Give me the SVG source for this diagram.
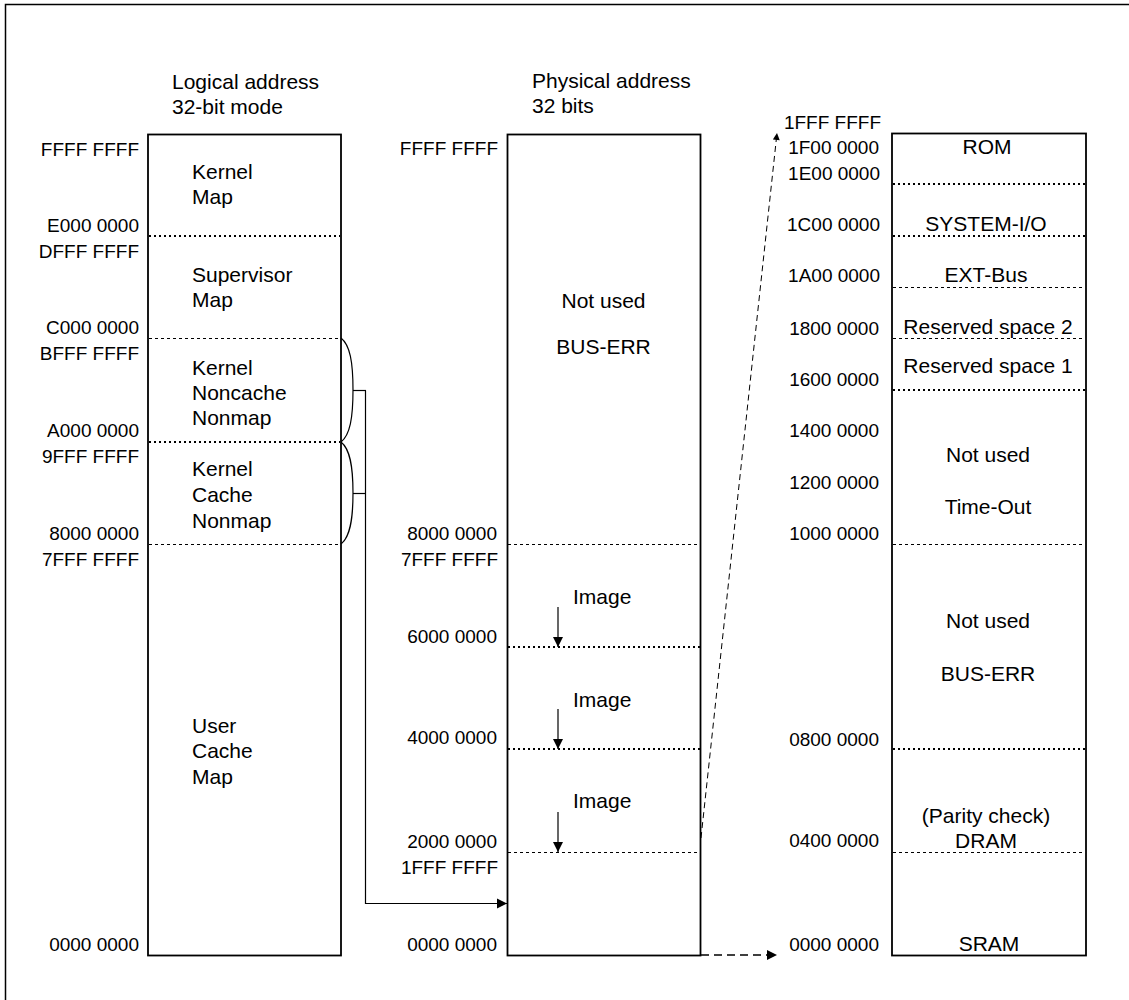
<svg xmlns="http://www.w3.org/2000/svg" width="1129" height="1000" viewBox="0 0 1129 1000">
<style>
text{font-family:"Liberation Sans",Arial,sans-serif;fill:#000}
.a{font-size:19px;text-anchor:end}
.l{font-size:21px}
.c{font-size:21px;text-anchor:middle}
.box{fill:none;stroke:#000;stroke-width:1.8}
.dt{stroke:#000;stroke-width:2;stroke-dasharray:2 3;fill:none}
.dn{stroke:#000;stroke-width:1;stroke-dasharray:3 3;fill:none}
.ln{stroke:#000;stroke-width:1.2;fill:none}
</style>
<defs>
<marker id="ah" viewBox="0 0 10 10" refX="10" refY="5" markerWidth="10" markerHeight="11" markerUnits="userSpaceOnUse" orient="auto">
<path d="M0,0 L10,5 L0,10 Z" fill="#000"/>
</marker>
<marker id="ahs" viewBox="0 0 10 10" refX="10" refY="5" markerWidth="8" markerHeight="7" markerUnits="userSpaceOnUse" orient="auto">
<path d="M0,0 L10,5 L0,10 Z" fill="#000"/>
</marker>
</defs>
<rect width="1129" height="1000" fill="#fff"/>
<path d="M5.5,1000 V4.5 H1129" fill="none" stroke="#000" stroke-width="1.5"/>

<g id="logical">
<text class="l" x="172" y="89">Logical address</text>
<text class="l" x="172" y="114">32-bit mode</text>
<rect class="box" x="148" y="134.5" width="193" height="821"/>
<line class="dt" x1="149" y1="236" x2="340" y2="236"/>
<line class="dn" x1="149" y1="338.5" x2="340" y2="338.5"/>
<line class="dt" x1="149" y1="442" x2="340" y2="442"/>
<line class="dn" x1="149" y1="544.5" x2="340" y2="544.5"/>
<text class="a" x="139" y="156">FFFF FFFF</text>
<text class="a" x="139" y="232">E000 0000</text>
<text class="a" x="139" y="258">DFFF FFFF</text>
<text class="a" x="139" y="334">C000 0000</text>
<text class="a" x="139" y="360">BFFF FFFF</text>
<text class="a" x="139" y="437">A000 0000</text>
<text class="a" x="139" y="463">9FFF FFFF</text>
<text class="a" x="139" y="540">8000 0000</text>
<text class="a" x="139" y="566">7FFF FFFF</text>
<text class="a" x="139" y="951">0000 0000</text>
<text class="l" x="192" y="179">Kernel</text>
<text class="l" x="192" y="204">Map</text>
<text class="l" x="192" y="282">Supervisor</text>
<text class="l" x="192" y="307">Map</text>
<text class="l" x="192" y="375">Kernel</text>
<text class="l" x="192" y="400">Noncache</text>
<text class="l" x="192" y="425">Nonmap</text>
<text class="l" x="192" y="476">Kernel</text>
<text class="l" x="192" y="502">Cache</text>
<text class="l" x="192" y="528">Nonmap</text>
<text class="l" x="192" y="733">User</text>
<text class="l" x="192" y="758">Cache</text>
<text class="l" x="192" y="784">Map</text>
</g>

<g id="physical">
<text class="l" x="532" y="88">Physical address</text>
<text class="l" x="532" y="113">32 bits</text>
<rect class="box" x="507.5" y="134.5" width="193" height="821"/>
<line class="dn" x1="508" y1="544.5" x2="700" y2="544.5"/>
<line class="dt" x1="508" y1="647" x2="700" y2="647"/>
<line class="dt" x1="508" y1="749" x2="700" y2="749"/>
<line class="dn" x1="508" y1="852.5" x2="700" y2="852.5"/>
<text class="a" x="498" y="155">FFFF FFFF</text>
<text class="a" x="497" y="540">8000 0000</text>
<text class="a" x="498" y="566">7FFF FFFF</text>
<text class="a" x="497" y="643">6000 0000</text>
<text class="a" x="497" y="744">4000 0000</text>
<text class="a" x="497" y="848">2000 0000</text>
<text class="a" x="498" y="874">1FFF FFFF</text>
<text class="a" x="497" y="951">0000 0000</text>
<text class="c" x="603.5" y="308">Not used</text>
<text class="c" x="603.5" y="354">BUS-ERR</text>
<text class="l" x="573" y="604">Image</text>
<text class="l" x="573" y="707">Image</text>
<text class="l" x="573" y="808">Image</text>
</g>

<g id="local">
<rect class="box" x="892" y="133.5" width="194" height="822"/>
<line class="dt" x1="893" y1="184" x2="1085" y2="184"/>
<line class="dt" x1="893" y1="236" x2="1085" y2="236"/>
<line class="dn" x1="893" y1="287.5" x2="1085" y2="287.5"/>
<line class="dn" x1="893" y1="338.5" x2="1085" y2="338.5"/>
<line class="dt" x1="893" y1="390" x2="1085" y2="390"/>
<line class="dn" x1="893" y1="544.5" x2="1085" y2="544.5"/>
<line class="dt" x1="893" y1="749" x2="1085" y2="749"/>
<line class="dn" x1="893" y1="852.5" x2="1085" y2="852.5"/>
<text class="a" x="881" y="129">1FFF FFFF</text>
<text class="a" x="879" y="154">1F00 0000</text>
<text class="a" x="880" y="180">1E00 0000</text>
<text class="a" x="880" y="231">1C00 0000</text>
<text class="a" x="880" y="282">1A00 0000</text>
<text class="a" x="879" y="335">1800 0000</text>
<text class="a" x="879" y="386">1600 0000</text>
<text class="a" x="879" y="437">1400 0000</text>
<text class="a" x="879" y="489">1200 0000</text>
<text class="a" x="879" y="540">1000 0000</text>
<text class="a" x="879" y="746">0800 0000</text>
<text class="a" x="879" y="847">0400 0000</text>
<text class="a" x="879" y="951">0000 0000</text>
<text class="c" x="987" y="154">ROM</text>
<text class="c" x="986" y="231">SYSTEM-I/O</text>
<text class="c" x="986" y="282">EXT-Bus</text>
<text class="c" x="988" y="334">Reserved space 2</text>
<text class="c" x="988" y="373">Reserved space 1</text>
<text class="c" x="988" y="462">Not used</text>
<text class="c" x="988" y="514">Time-Out</text>
<text class="c" x="988" y="628">Not used</text>
<text class="c" x="988" y="681">BUS-ERR</text>
<text class="c" x="986" y="823">(Parity check)</text>
<text class="c" x="986" y="848">DRAM</text>
<text class="c" x="989" y="951">SRAM</text>
</g>

<g id="connectors">
<path class="ln" d="M341,338 C350,345 353,362 353,390 C353,418 350,435 341,442"/>
<path class="ln" d="M341,442 C350,449 353,466 353,493 C353,520 350,537 341,544"/>
<line class="ln" x1="353" y1="390.5" x2="366" y2="390.5"/>
<line class="ln" x1="353" y1="493.5" x2="366" y2="493.5"/>
<path class="ln" d="M365.5,390.5 V903.5 H507" marker-end="url(#ah)"/>
<line class="ln" x1="558" y1="607" x2="558" y2="647" marker-end="url(#ah)"/>
<line class="ln" x1="558" y1="709" x2="558" y2="749" marker-end="url(#ah)"/>
<line class="ln" x1="558" y1="812" x2="558" y2="852" marker-end="url(#ah)"/>
<line x1="701" y1="838" x2="777" y2="133" stroke="#000" stroke-width="1" stroke-dasharray="6 4" marker-end="url(#ahs)"/>
<line x1="701" y1="955" x2="777" y2="955" stroke="#000" stroke-width="1.6" stroke-dasharray="8 5" marker-end="url(#ah)"/>
</g>
</svg>
